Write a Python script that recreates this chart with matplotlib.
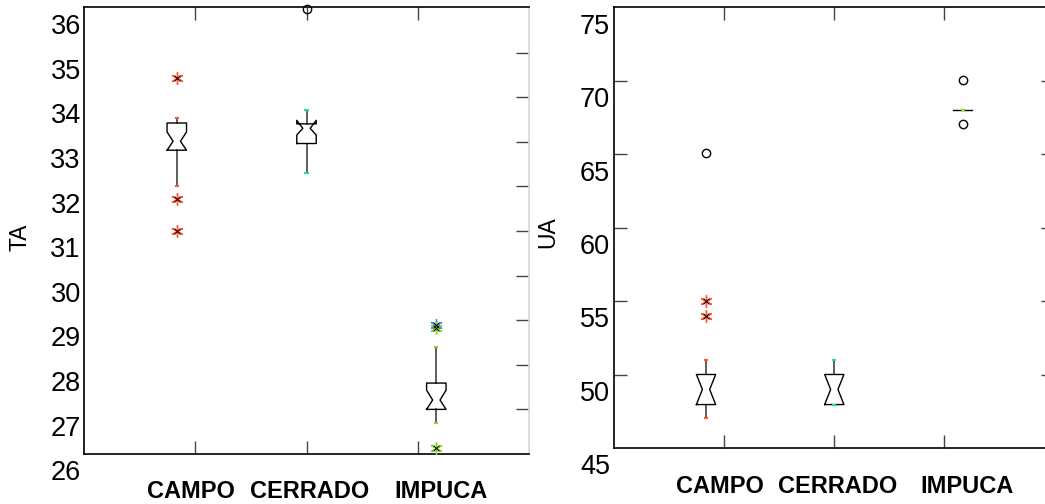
import matplotlib
matplotlib.use('Agg')
import matplotlib.pyplot as plt
import matplotlib.transforms as mtransforms
import numpy as np

plt.rcParams['font.family'] = ['Liberation Sans', 'DejaVu Sans']

groups = ['CAMPO', 'CERRADO', 'IMPUCA']
box_pos = [0.834, 2.0, 3.167]
label_pos = [0.96, 2.03, 3.21]
cap_colors = ['#ff5533', '#2fd6a6', '#8ad624']

# TA (left panel) box statistics
ta_whislo = [32.43, 32.74, 27.12]
ta_q1 = [33.24, 33.39, 27.43]
ta_cilo = [33.24, 33.58, 27.43]
ta_med = [33.44, 33.73, 27.64]
ta_cihi = [33.65, 33.91, 27.86]
ta_q3 = [33.85, 33.83, 28.02]
ta_whishi = [33.96, 34.14, 28.83]
ta_stars = [[34.86, 32.14, 31.43], [], [29.32, 29.25, 26.56]]
ta_circles = [[], [36.40], []]
ta_star_colors = [['#ff5533'] * 3, [], ['#3a8ff0', '#8ad624', '#8ad624']]
ta_labels = list(range(26, 37))

# UA (right panel) box statistics
ua_whislo = [48.34, 49.27, 69.34]
ua_q1 = [49.27, 49.27, 69.34]
ua_cilo = [49.27, 49.27, 69.34]
ua_med = [50.30, 50.30, 69.34]
ua_cihi = [51.32, 51.32, 69.34]
ua_q3 = [51.32, 51.32, 69.34]
ua_whishi = [52.30, 52.30, 69.34]
ua_stars = [[56.32, 55.30], [], []]
ua_circles = [[66.39], [], [71.39, 68.39]]
ua_star_colors = [['#ff5533'] * 2, [], []]
ua_labels = list(range(45, 80, 5))

BOX_W = 0.175
WAIST = 0.38


def notched_box(ax, x, whislo, q1, cilo, med, cihi, q3, whishi, capc):
    L, R = x - BOX_W / 2, x + BOX_W / 2
    wl, wr = x - BOX_W * WAIST / 2, x + BOX_W * WAIST / 2
    if q1 == q3:
        # collapsed box: a single line
        ax.plot([L, R], [med, med], color='k', lw=1.0, zorder=3)
    else:
        px = [L, R, R, wr, R, R, L, L, wl, L, L]
        py = [q1, q1, cilo, med, cihi, q3, q3, cihi, med, cilo, q1]
        ax.plot(px, py, color='k', lw=1.0, zorder=3)
    ax.plot([x, x], [whislo, q1], color='#333333', lw=1.1, zorder=2)
    ax.plot([x, x], [q3, whishi], color='#333333', lw=1.1, zorder=2)
    cw = 0.018
    for yv in (whislo, whishi):
        ax.plot([x - cw, x + cw], [yv, yv], color=capc, lw=1.6, zorder=4,
                solid_capstyle='butt')


def panel(ax, stats, stars, star_cols, circles, ylim, step, labels,
          ylabel, ylab_xy, lab_x, cat_y):
    for i in range(3):
        notched_box(ax, box_pos[i], *[s[i] for s in stats], cap_colors[i])
        for v, c in zip(stars[i], star_cols[i]):
            ax.plot(box_pos[i], v, marker=(6, 2, 0), ms=9, color=c, mew=1.0,
                    zorder=5)
            ax.plot(box_pos[i], v, marker='x', ms=4, color='k', mew=0.7,
                    zorder=6)
        if circles[i]:
            ax.plot([box_pos[i]] * len(circles[i]), circles[i], 'o', ms=6,
                    mfc='none', mec='k', mew=1.0, zorder=5, clip_on=False)
    ax.set_xlim(0, 4)
    ax.set_ylim(*ylim)
    ax.set_yticks(np.arange(ylim[0] + step, ylim[1] - step * 0.5, step))
    ax.set_yticklabels([])
    ax.set_xticks([1, 2, 3])
    ax.set_xticklabels([])
    ax.tick_params(axis='both', direction='in', length=9.5, width=1.0,
                   color='#444444', top=True, right=True)
    for sp in ax.spines.values():
        sp.set_linewidth(1.2)
    # value labels, as placed in the original figure
    tr = mtransforms.blended_transform_factory(ax.transAxes, ax.transData)
    for v in labels:
        ax.text(lab_x, v, str(v), transform=tr, ha='right', va='center',
                fontsize=19.5, clip_on=False)
    tr2 = mtransforms.blended_transform_factory(ax.transData, ax.transAxes)
    for x, g in zip(label_pos, groups):
        ax.text(x, cat_y, g, transform=tr2, ha='center', va='baseline',
                fontsize=17, fontweight='bold', clip_on=False)
    ax.text(ylab_xy[0], ylab_xy[1], ylabel, transform=ax.transAxes,
            rotation=90, ha='center', va='center', fontsize=16.5)


fig = plt.figure(figsize=(10.45, 5.04), dpi=100)
W, H = 1045, 504
ax1 = fig.add_axes([84 / W, (H - 454) / H, 445 / W, 447 / H])
ax2 = fig.add_axes([614.3 / W, (H - 448) / H, 440 / W, 441 / H])

panel(ax1, (ta_whislo, ta_q1, ta_cilo, ta_med, ta_cihi, ta_q3, ta_whishi),
      ta_stars, ta_star_colors, ta_circles, (26.43, 36.45), 1.0, ta_labels,
      'TA', (-0.144, 0.485), -0.007, -0.098)
ax1.tick_params(axis='y', left=False)
ax1.spines['right'].set_color('#d8d8d8')

panel(ax2, (ua_whislo, ua_q1, ua_cilo, ua_med, ua_cihi, ua_q3, ua_whishi),
      ua_stars, ua_star_colors, ua_circles, (46.31, 76.36), 5.0, ua_labels,
      'UA', (-0.151, 0.49), -0.01, -0.102)

fig.savefig('out.png', dpi=100)
